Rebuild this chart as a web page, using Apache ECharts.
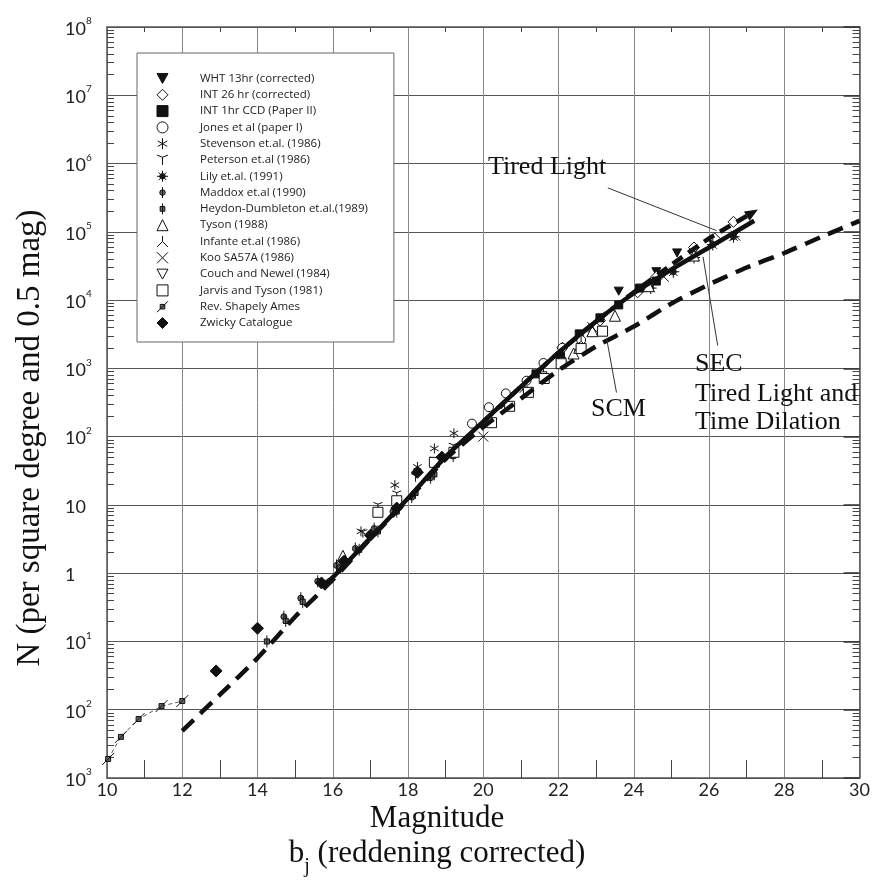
<!DOCTYPE html>
<html><head><meta charset="utf-8">
<script src="https://cdn.jsdelivr.net/npm/echarts@6/dist/echarts.min.js"></script>
<style>html,body{margin:0;padding:0;background:#fff}#c{width:873px;height:893px}</style>
</head><body><div id="c"></div><script>
// ---- data (magnitude b_j, N per sq. degree per 0.5 mag) ----
const wht13 = [[23.6,1.35e4],[24.6,2.6e4],[25.15,4.9e4],[25.6,5.2e4],[26.1,7.0e4]];
const int26 = [[22.1,2.0e3],[23.1,5.0e3],[24.1,1.3e4],[24.6,2.2e4],[25.6,5.9e4],[26.15,8.0e4],[26.65,1.4e5]];
const int1ccd = [[21.4,830],[22.05,1.5e3],[22.55,3.2e3],[23.1,5.5e3],[23.6,8.5e3],[24.15,1.5e4],[24.6,1.9e4]];
const jones = [[19.7,155],[20.15,270],[20.6,430],[21.15,660],[21.6,1.2e3],[22.1,2.0e3],[22.6,2.6e3]];
const stevenson = [[16.75,4.1],[17.2,8],[17.65,19.5],[18.25,36],[18.7,67],[19.22,112]];
const peterson = [[16.8,3.8],[17.2,9.5],[17.7,14],[18.2,25],[18.7,44],[19.2,70]];
const lily = [[24.45,1.5e4],[25.05,2.6e4],[25.6,4.2e4],[26.1,6.5e4],[26.65,8.5e4]];
const maddox = [[14.7,0.23],[15.15,0.43],[15.6,0.76],[16.1,1.3],[16.6,2.3],[17.1,4.5],[17.6,8],[18.1,13],[18.6,25]];
const heydon = [[14.25,0.1],[14.75,0.2],[15.2,0.38],[16.2,1.2],[16.7,2.2],[17.2,4.1],[17.7,8],[18.2,15],[18.7,28],[19.2,52]];
const tyson = [[16.27,1.8],[22.4,1.65e3],[22.55,2.0e3],[22.9,3.5e3],[23.5,5.9e3],[24.4,1.6e4],[25.6,4.5e4]];
const infante = [[20.6,300],[21.1,520],[21.6,900],[22.1,1.5e3],[22.6,2.5e3]];
const koo = [[20.0,100],[22.9,4.0e3],[24.8,2.2e4],[26.7,8.8e4]];
const couch = [[21.1,480],[21.6,800],[22.1,1.3e3]];
const jarvis = [[17.2,7.8],[17.7,11.5],[18.7,42],[19.22,59],[20.22,160],[20.7,278],[21.2,445],[21.62,710],[22.07,1.17e3],[22.6,1.95e3],[23.17,3.5e3]];
const shapley = [[10.03,1.9e-3],[10.37,4.0e-3],[10.84,7.3e-3],[11.45,1.13e-2],[12.0,1.34e-2]];
const zwicky = [[12.9,0.037],[14.0,0.156],[15.7,0.72],[16.3,1.5],[17.0,3.6],[17.7,9],[18.25,30],[18.9,50]];

// model curves
const secLine = [[15.7,0.65],[16,0.87],[17,3.3],[18,12.5],[19,51],[20,166],[21,540],[22,1.7e3],[23,4.9e3],[24,1.26e4],[25,2.8e4],[26,5.9e4],[27.2,1.45e5]];
const tiredLine = [[20,166],[21,540],[22,1.7e3],[23,4.9e3],[24,1.3e4],[25,3.3e4],[26,8.0e4],[27.15,1.9e5]];
const scmLine = [[12,4.9e-3],[13,0.0166],[14,0.057],[15,0.23],[16,0.8],[17,3.2],[18,12],[19,47],[20,138],[21,360],[22,940],[23,2.1e3],[24,4.1e3],[25,8.9e3],[26,1.7e4],[27,3.0e4],[28,4.9e4],[29,8.5e4],[30,1.45e5]];

// axis ticks
const xTicks = [10,12,14,16,18,20,22,24,26,28,30];
const yDecades = [-3,-2,-1,0,1,2,3,4,5,6,7,8];

// annotation anchors (data coords)
const leaderTL = [[23.31,4.4e5],[26.2,1.04e5]];
const leaderSEC = [[26.23,2.16e3],[25.84,4.3e4]];
const leaderSCM = [[23.54,443],[23.28,2.7e3]];

const names = ['WHT 13hr (corrected)','INT 26 hr (corrected)','INT 1hr CCD (Paper II)','Jones et al (paper I)',
 'Stevenson et.al. (1986)','Peterson et.al (1986)','Lily et.al. (1991)','Maddox et.al (1990)',
 'Heydon-Dumbleton et.al.(1989)','Tyson (1988)','Infante et.al (1986)','Koo SA57A (1986)',
 'Couch and Newel (1984)','Jarvis and Tyson (1981)','Rev. Shapely Ames','Zwicky Catalogue'];

const P = {
  downTri: 'path://M0,0L10,0L5,9Z',
  aster: 'path://M5,0L5,10M0.7,2.5L9.3,7.5M9.3,2.5L0.7,7.5',
  yTee: 'path://M0,1L5,3L10,1M5,3L5,10',
  lily: 'path://M0,6L12,6M6,0L6,12M1.8,1.8L10.2,10.2M10.2,1.8L1.8,10.2M9,6A3,3,0,1,1,3,6A3,3,0,1,1,9,6Z',
  maddox: 'path://M5,0L5,16M9,8A4,4,0,1,1,1,8A4,4,0,1,1,9,8Z',
  hd: 'path://M5,0L5,14M2,4L8,4L8,10L2,10Z',
  inf: 'path://M5,0L5,5L0,10M5,5L10,10',
  cross: 'path://M0,0L10,10M10,0L0,10',
  sha: 'path://M0,12L12,0M3.5,3.5L8.5,3.5L8.5,8.5L3.5,8.5Z'
};
const T = 'rgba(0,0,0,0)';
function sc(i, data, symbol, size, fill){
  return {type:'scatter', name:names[i], data:data, symbol:symbol, symbolSize:size, symbolKeepAspect:true,
    itemStyle:{color:fill, borderColor:'#111', borderWidth:1, opacity:1}, z:3, silent:true};
}
const series = [
  sc(0, wht13, P.downTri, 9, '#111'),
  sc(1, int26, 'diamond', 11, '#fff'),
  sc(2, int1ccd, 'rect', 8, '#111'),
  sc(3, jones, 'circle', 9, '#fff'),
  sc(4, stevenson, P.aster, 10, T),
  sc(5, peterson, P.yTee, 9, T),
  sc(6, lily, P.lily, 12, '#444'),
  sc(7, maddox, P.maddox, 12, '#666'),
  sc(8, heydon, P.hd, 12, '#666'),
  sc(9, tyson, 'triangle', 11, '#fff'),
  sc(10, infante, P.inf, 10, T),
  sc(11, koo, P.cross, 10, T),
  sc(12, couch, P.downTri, 7, '#fff'),
  sc(13, jarvis, 'rect', 10, '#fff'),
  sc(14, shapley, P.sha, 12, '#666'),
  sc(15, zwicky, 'diamond', 12, '#111'),
  {type:'line', name:'shapleyLine', data:shapley, symbol:'none', silent:true, z:2,
   lineStyle:{color:'#555', width:1, type:[4,3]}},
  {type:'line', name:'SCM', data:scmLine, symbol:'none', smooth:0.2, silent:true, z:4,
   lineStyle:{color:'#111', width:4.5, type:[16,9]}},
  {type:'line', name:'SEC', data:secLine, symbol:'none', smooth:0.2, silent:true, z:4,
   lineStyle:{color:'#111', width:4.5}},
  {type:'line', name:'Tired', data:tiredLine.map((d,i)=> i===tiredLine.length-1 ?
      {value:d, symbol:'triangle', symbolSize:[11,13], symbolRotate:-59, itemStyle:{color:'#111', borderWidth:0}} : {value:d}),
   symbol:'none', showSymbol:true, smooth:0.2, silent:true, z:4,
   lineStyle:{color:'#111', width:4.5, type:[12,7]}}
];

const chart = echarts.init(document.getElementById('c'), null, {renderer:'canvas'});
const tickFont = 'Lato';
const axisLineStyle = {color:'#555', width:1.5};
function yLabel(v){
  const e = Math.round(Math.log10(v));
  if (e === 0) return '{b|1}';
  if (e === 1) return '{b|10}';
  return '{b|10}{s|' + Math.abs(e) + '}';
}
chart.setOption({
  animation:false,
  backgroundColor:'#fff',
  grid:{left:107, right:7, top:27, bottom:115, containLabel:false},
  legend:{
    data: names.map(n=>({name:n})),
    orient:'vertical', left:137, top:53,
    padding:[19.5, 26, 13, 19.5],
    itemWidth:11, itemHeight:11, itemGap:4.3,
    backgroundColor:'#fff', borderColor:'#666', borderWidth:1,
    itemStyle:{borderWidth:1},
    textStyle:{fontFamily:'Open Sans', fontSize:11.5, color:'#222', lineHeight:11, padding:[0,0,0,27]},
    selectedMode:false
  },
  xAxis:[
    {type:'value', min:10, max:30, interval:2, position:'bottom',
     axisLine:{show:true, onZero:false, lineStyle:axisLineStyle},
     axisTick:{show:false, inside:true},
     minorTick:{show:true, splitNumber:2, length:18, lineStyle:{color:'#444', width:1}},
     splitLine:{show:true, lineStyle:{color:'#888', width:1}},
     axisLabel:{fontFamily:tickFont, fontSize:18, color:'#222', margin:3,
       formatter: v => xTicks.indexOf(v) >= 0 ? String(v) : ''}},
    {type:'value', min:10, max:30, interval:2, position:'top',
     axisLine:{show:true, onZero:false, lineStyle:axisLineStyle},
     axisTick:{show:false, inside:true},
     minorTick:{show:true, splitNumber:2, length:5, lineStyle:{color:'#444'}},
     splitLine:{show:false}, axisLabel:{show:false}}
  ],
  yAxis:[
    {type:'log', logBase:10, min:1e-3, max:1e8, interval:1, splitNumber:11, position:'left',
     axisLine:{show:true, onZero:false, lineStyle:axisLineStyle},
     axisTick:{show:false, inside:true},
     minorTick:{show:true, splitNumber:9, length:7, lineStyle:{color:'#444'}},
     splitLine:{show:true, lineStyle:{color:'#555', width:1}},
     axisLabel:{align:'left', margin:42, formatter:yLabel,
       rich:{b:{fontFamily:tickFont, fontSize:18, color:'#222', lineHeight:22, verticalAlign:'bottom'},
             s:{fontFamily:tickFont, fontSize:10, color:'#222', lineHeight:12, verticalAlign:'top'}}}},
    {type:'log', logBase:10, min:1e-3, max:1e8, interval:1, splitNumber:11, position:'right',
     axisLine:{show:true, onZero:false, lineStyle:axisLineStyle},
     axisTick:{show:true, inside:true, length:16, lineStyle:{color:'#333', width:1.5}},
     minorTick:{show:true, splitNumber:9, length:7, lineStyle:{color:'#444'}},
     splitLine:{show:false}, axisLabel:{show:false}}
  ],
  series: series
});

function px(p){ return chart.convertToPixel({xAxisIndex:0, yAxisIndex:0}, p); }
function seg(a){ const p0 = px(a[0]), p1 = px(a[1]);
  return {type:'line', shape:{x1:p0[0], y1:p0[1], x2:p1[0], y2:p1[1]}, style:{stroke:'#333', lineWidth:1}, z:50}; }
const serif = '"Liberation Serif", "Times New Roman", serif';
function txt(s, x, y, size, align){
  return {type:'text', x:x, y:y, z:60, style:{text:s, font:size+'px '+serif, fill:'#111', textAlign:align||'left', textVerticalAlign:'middle'}};
}
chart.setOption({graphic:[
  seg(leaderTL), seg(leaderSEC), seg(leaderSCM),
  txt('Tired Light', 488, 167, 26),
  txt('SCM', 591, 409, 26),
  txt('SEC', 695, 364, 26),
  txt('Tired Light and', 695, 394, 26),
  txt('Time Dilation', 695, 422, 26),
  {type:'text', x:30, y:438, rotation:Math.PI/2, z:60,
   style:{text:'N (per square degree and 0.5 mag)', font:'33px '+serif, fill:'#111', textAlign:'center', textVerticalAlign:'middle'}},
  txt('Magnitude', 437, 819, 31, 'center'),
  {type:'text', x:437, y:852, z:60,
   style:{text:'{a|b}{j|j}{a| (reddening corrected)}', textAlign:'center', textVerticalAlign:'middle',
     rich:{a:{font:'31px '+serif, fill:'#111', lineHeight:34, verticalAlign:'bottom'},
           j:{font:'20px '+serif, fill:'#111', lineHeight:34, verticalAlign:'bottom', padding:[0,0,-8,0]}}}}
]});
</script></body></html>
